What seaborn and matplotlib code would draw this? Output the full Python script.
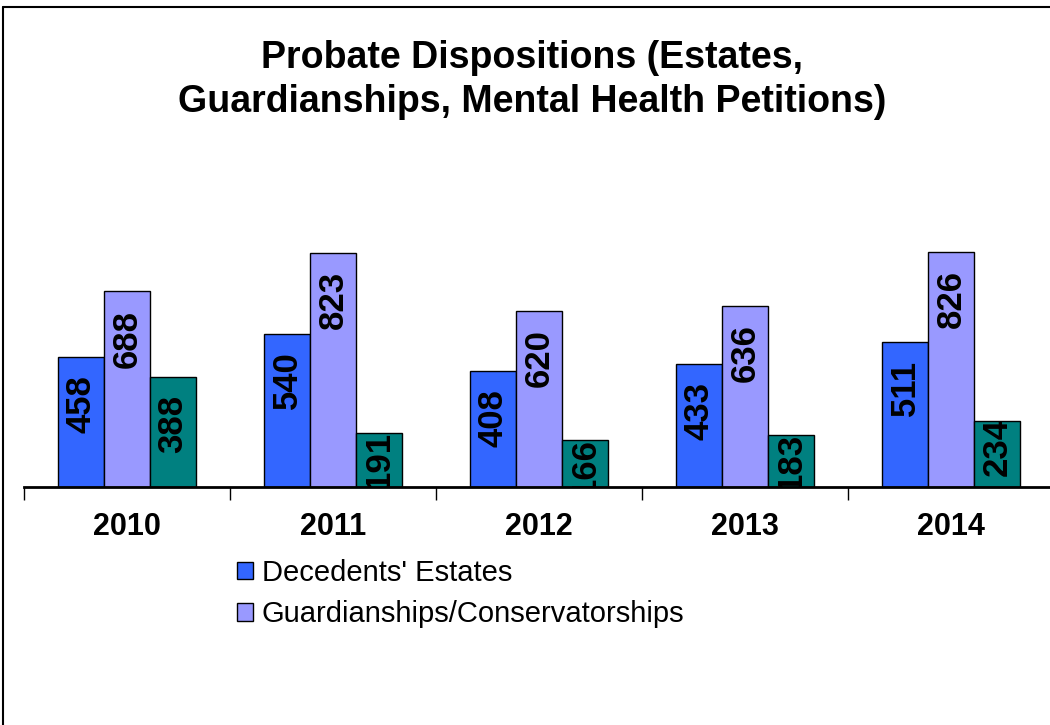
import pandas as pd
import matplotlib.pyplot as plt
import seaborn as sns
from matplotlib.lines import Line2D

years = ['2010', '2011', '2012', '2013', '2014']
series = ["Decedents' Estates", 'Guardianships/Conservatorships', 'Mental Health Petitions']
estates = [458, 540, 408, 433, 511]
guardianships = [688, 823, 620, 636, 826]
mental_health = [388, 191, 166, 183, 234]
colors = ['#3366FF', '#9999FF', '#008080']

data = pd.DataFrame({
    'Year': years * 3,
    'Type': [series[0]] * 5 + [series[1]] * 5 + [series[2]] * 5,
    'Count': estates + guardianships + mental_health,
})

sns.set_style('white')
plt.rcParams['font.family'] = ['Liberation Sans', 'DejaVu Sans']
plt.rcParams['text.color'] = 'black'
plt.rcParams['xtick.color'] = 'black'

fig = plt.figure(figsize=(10.5, 7.25), dpi=100)
ax = fig.add_axes([24 / 1050, 238 / 725, 1030 / 1050, 341 / 725])

sns.barplot(data=data, x='Year', y='Count', hue='Type', order=years, hue_order=series,
            palette=colors, width=0.67, gap=0, edgecolor='black', linewidth=1,
            saturation=1, ax=ax)

# etiket angka di dalam batang
for cont in ax.containers:
    for bar in cont:
        h = bar.get_height()
        off = -13 if h > 260 else 1.5
        ax.annotate(f'{h:.0f}', (bar.get_x() + bar.get_width() / 2, h),
                    xytext=(0, off), textcoords='offset points',
                    ha='center', va='top', rotation=90, fontsize=25,
                    fontweight='bold', color='black', clip_on=True, annotation_clip=True)

ax.set_xlim(-0.5, 4.5)
ax.set_ylim(0, 1200)
ax.set_xlabel('')
ax.set_ylabel('')
ax.set_yticks([])
ax.spines[['top', 'right', 'left']].set_visible(False)
ax.spines['bottom'].set_linewidth(2)
ax.spines['bottom'].set_color('black')
ax.set_xticks(range(5))
ax.set_xticklabels(years, fontsize=22, fontweight='bold', color='black')
ax.set_xticks([i - 0.5 for i in range(6)], minor=True)
ax.tick_params(axis='x', which='major', length=0, pad=18)
ax.tick_params(axis='x', which='minor', length=9, width=1, color='black', direction='out')
ax.xaxis.set_tick_params(bottom=True, which='both')

leg = ax.get_legend()
handles = leg.legend_handles[:2]
labels = [t.get_text() for t in leg.texts][:2]
leg.remove()
fig.legend(handles, labels, loc='upper left', bbox_to_anchor=(237 / 1050, 1 - 559 / 725),
           frameon=False, fontsize=21, handlelength=0.55, handleheight=0.55,
           handletextpad=0.3, labelspacing=0.45, borderpad=0, borderaxespad=0,
           labelcolor='black')

fig.suptitle('Probate Dispositions (Estates,\nGuardianships, Mental Health Petitions)',
             x=532 / 1050, y=1 - 40 / 725, va='top', fontsize=27, fontweight='bold',
             linespacing=1.3, color='black')

# bingkai grafik
fig.add_artist(Line2D([3 / 1050, 3 / 1050], [0, 1 - 7 / 725], transform=fig.transFigure,
                      color='black', lw=1.5))
fig.add_artist(Line2D([3 / 1050, 1], [1 - 7 / 725, 1 - 7 / 725], transform=fig.transFigure,
                      color='black', lw=1.5))

fig.savefig('out.png', dpi=100)
